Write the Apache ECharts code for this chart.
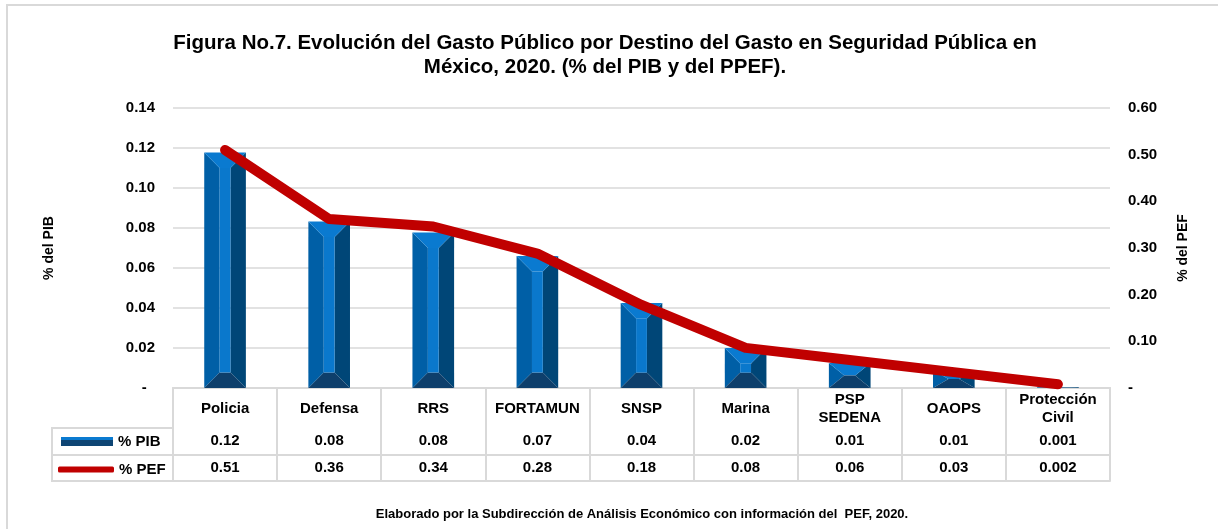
<!DOCTYPE html>
<html>
<head>
<meta charset="utf-8">
<script src="https://cdn.jsdelivr.net/npm/echarts@6/dist/echarts.min.js"></script>
<style>
  html, body { margin: 0; padding: 0; background: #fff; }
  #main { width: 1218px; height: 529px; }
</style>
</head>
<body>
<div id="main"></div>
<script>
const categories = ['Policia', 'Defensa', 'RRS', 'FORTAMUN', 'SNSP', 'Marina', 'PSP\nSEDENA', 'OAOPS', 'Protección\nCivil'];
// bar heights (% del PIB)
const pibValues = [0.1177, 0.0832, 0.0777, 0.066, 0.0425, 0.02, 0.0125, 0.009, 0.0004];
// line points (% del PEF)
const pefValues = [0.51, 0.362, 0.346, 0.288, 0.178, 0.086, 0.06, 0.034, 0.008];
// table text
const pibTable = ['0.12', '0.08', '0.08', '0.07', '0.04', '0.02', '0.01', '0.01', '0.001'];
const pefTable = ['0.51', '0.36', '0.34', '0.28', '0.18', '0.08', '0.06', '0.03', '0.002'];

const FONT = 'Liberation Sans, Arial, sans-serif';
const GRID = { left: 173, right: 108, top: 108, bottom: 141 };
const TABLE_LINE = '#d9d9d9';

function renderBevelBar(params, api) {
  const top = api.coord([api.value(0), api.value(1)]);
  const base = api.coord([api.value(0), 0]);
  const w = api.size([1, 0])[0] * 0.4;
  const x0 = top[0] - w / 2, x1 = top[0] + w / 2;
  const yt = top[1], yb = base[1];
  const h = yb - yt;
  const bx = w * 0.37;
  const by = Math.min(bx, h / 2);
  const xi0 = x0 + bx, xi1 = x1 - bx, yi0 = yt + by, yi1 = yb - by;
  const poly = (pts, fill) => ({ type: 'polygon', shape: { points: pts }, style: { fill: fill } });
  return {
    type: 'group',
    children: [
      poly([[x0, yt], [xi0, yi0], [xi0, yi1], [x0, yb]], '#005fa6'),
      poly([[x1, yt], [xi1, yi0], [xi1, yi1], [x1, yb]], '#004677'),
      poly([[x0, yt], [x1, yt], [xi1, yi0], [xi0, yi0]], '#0a7ad0'),
      poly([[x0, yb], [x1, yb], [xi1, yi1], [xi0, yi1]], '#0e3f6b'),
      { type: 'rect', shape: { x: xi0, y: yi0, width: xi1 - xi0, height: Math.max(0, yi1 - yi0) }, style: { fill: '#0a78cc' } }
    ]
  };
}

const chart = echarts.init(document.getElementById('main'));

const tableAxis = (offset, labels) => ({
  type: 'category',
  data: categories,
  gridIndex: 0,
  position: 'bottom',
  offset: offset,
  axisLine: { show: true, lineStyle: { color: TABLE_LINE, width: 2 } },
  axisTick: { show: false },
  axisLabel: {
    show: !!labels,
    interval: 0,
    margin: 13,
    verticalAlign: 'middle',
    color: '#000',
    fontFamily: FONT,
    fontWeight: 'bold',
    fontSize: 15,
    formatter: (v, i) => labels ? labels[i] : ''
  }
});

const option = {
  animation: false,
  backgroundColor: '#fff',
  title: [
    {
      text: 'Figura No.7. Evolución del Gasto Público por Destino del Gasto en Seguridad Pública en\nMéxico, 2020. (% del PIB y del PPEF).',
      left: 600,
      top: 26,
      textAlign: 'center',
      textStyle: { fontFamily: FONT, fontWeight: 'bold', fontSize: 20.5, lineHeight: 24, color: '#000' }
    },
    {
      text: 'Elaborado por la Subdirección de Análisis Económico con información del  PEF, 2020.',
      left: 637,
      top: 503,
      textAlign: 'center',
      textStyle: { fontFamily: FONT, fontWeight: 'bold', fontSize: 13, color: '#000' }
    }
  ],
  legend: [
    {
      data: [{
        name: '% PIB', icon: 'rect',
        itemStyle: { color: { type: 'linear', x: 0, y: 0, x2: 0, y2: 1, colorStops: [
          { offset: 0, color: '#0a7ad0' }, { offset: 0.3, color: '#0a7ad0' },
          { offset: 0.3, color: '#0e4574' }, { offset: 1, color: '#0e4574' }] } }
      }],
      left: 61, top: 434, itemWidth: 52, itemHeight: 9, padding: 0,
      textStyle: { fontFamily: FONT, fontWeight: 'bold', fontSize: 15, color: '#000' }
    },
    {
      data: [{ name: '% PEF', icon: 'roundRect', itemStyle: { color: '#c00000' } }],
      left: 58, top: 462, itemWidth: 56, itemHeight: 6, padding: 0,
      textStyle: { fontFamily: FONT, fontWeight: 'bold', fontSize: 15, color: '#000' }
    }
  ],
  grid: { left: GRID.left, right: GRID.right, top: GRID.top, bottom: GRID.bottom },
  xAxis: [
    {
      type: 'category',
      data: categories,
      position: 'bottom',
      axisLine: { show: true, lineStyle: { color: TABLE_LINE, width: 2 } },
      axisTick: { show: true, length: 93, lineStyle: { color: TABLE_LINE, width: 2 } },
      axisLabel: {
        interval: 0, margin: 21, verticalAlign: 'middle', lineHeight: 18,
        color: '#000', fontFamily: FONT, fontWeight: 'bold', fontSize: 15
      }
    },
    tableAxis(40, pibTable),
    tableAxis(67, pefTable),
    tableAxis(93, null)
  ],
  yAxis: [
    {
      type: 'value', min: 0, max: 0.14, interval: 0.02,
      name: '% del PIB', nameLocation: 'middle', nameGap: 117,
      nameTextStyle: { fontFamily: FONT, fontWeight: 'bold', fontSize: 14, color: '#000' },
      axisLine: { show: false }, axisTick: { show: false },
      splitLine: { lineStyle: { color: '#d9d9d9', width: 1.5 } },
      axisLabel: {
        margin: 18, color: '#000', fontFamily: FONT, fontWeight: 'bold', fontSize: 15,
        formatter: v => v === 0 ? '-  ' : v.toFixed(2)
      }
    },
    {
      type: 'value', min: 0, max: 0.6, interval: 0.1,
      name: '% del PEF', nameLocation: 'middle', nameGap: 66, nameRotate: 90,
      nameTextStyle: { fontFamily: FONT, fontWeight: 'bold', fontSize: 14, color: '#000' },
      axisLine: { show: false }, axisTick: { show: false },
      splitLine: { show: false },
      axisLabel: {
        margin: 18, color: '#000', fontFamily: FONT, fontWeight: 'bold', fontSize: 15,
        formatter: v => v === 0 ? '-' : v.toFixed(2)
      }
    }
  ],
  graphic: [
    // outer frame (top & left edges)
    { type: 'polyline', shape: { points: [[7, 529], [7, 5], [1218, 5]] }, style: { stroke: '#d9d9d9', lineWidth: 2, fill: null } },
    // legend column of the data table
    { type: 'polyline', shape: { points: [[173, 428], [52, 428], [52, 481], [173, 481]] }, style: { stroke: TABLE_LINE, lineWidth: 2, fill: null } },
    { type: 'line', shape: { x1: 52, y1: 455, x2: 173, y2: 455 }, style: { stroke: TABLE_LINE, lineWidth: 2 } }
  ],
  series: [
    {
      name: '% PIB',
      type: 'custom',
      xAxisIndex: 0,
      yAxisIndex: 0,
      renderItem: renderBevelBar,
      encode: { x: 0, y: 1 },
      itemStyle: { color: '#0a5da0' },
      data: pibValues.map((v, i) => [i, v]),
      z: 2
    },
    {
      name: '% PEF',
      type: 'line',
      xAxisIndex: 0,
      yAxisIndex: 1,
      data: pefValues,
      showSymbol: false,
      symbol: 'none',
      lineStyle: { color: '#c00000', width: 10, cap: 'round', join: 'round' },
      itemStyle: { color: '#c00000' },
      z: 3
    }
  ]
};

chart.setOption(option);
window.addEventListener('resize', () => {
  chart.resize();
});
</script>
</body>
</html>
